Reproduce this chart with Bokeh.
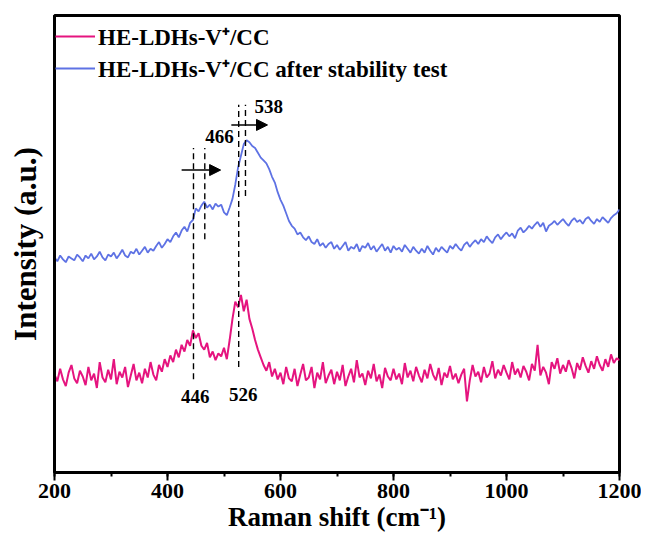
from bokeh.plotting import figure
from bokeh.models import (ColumnDataSource, Legend, LegendItem, SingleIntervalTicker,
                          FixedTicker, Arrow, NormalHead, Range1d)
from bokeh.core.properties import value
from bokeh.embed import file_html
from bokeh.resources import INLINE

# ---------------- data ----------------
shift_start = 200
shift_step = 5

after_test = [
    224, 220, 226, 222, 219, 225, 223, 221, 227, 224,
    220, 226, 223, 228, 222, 225, 230, 224, 221, 227,
    225, 229, 223, 227, 232, 226, 224, 230, 228, 233,
    227, 231, 235, 229, 233, 231, 236, 240, 234, 238,
    243, 240, 246, 250, 245, 252, 256, 251, 260, 263,
    275, 272, 278, 282, 276, 279, 274, 280, 277, 279,
    271, 268, 276, 285, 300, 318, 330, 342, 346, 344,
    340, 338, 333, 328, 325, 322, 316, 308, 302, 292,
    284, 278, 270, 262, 257, 254, 248, 250, 245, 242,
    246, 240, 238, 243, 236, 239, 234, 238, 240, 233,
    237, 232, 236, 240, 231, 235, 233, 238, 230, 236,
    234, 239, 232, 236, 230, 234, 238, 231, 235, 229,
    236, 232, 234, 230, 237, 233, 229, 235, 231, 228,
    233, 229, 236, 231, 227, 234, 230, 235, 232, 229,
    236, 233, 238, 234, 231, 237, 240, 235, 239, 242,
    238, 243, 240, 246, 242, 239, 245, 248, 243, 247,
    250, 246, 249, 244, 252, 255, 250, 253, 257, 254,
    258, 261, 256, 260, 251, 257, 259, 262, 258, 261,
    264, 260, 257, 262, 265, 261, 263, 259, 264, 266,
    262, 259, 264, 261, 266, 263, 260, 265, 268, 270,
    274,
]

fresh = [
    102, 95, 108, 97, 90, 104, 112, 98, 93, 106,
    100, 91, 110, 96, 103, 88, 115, 99, 94, 107,
    97, 118, 92, 105, 99, 110, 89, 101, 113, 96,
    104, 93, 108, 99, 115, 102, 96, 112, 105, 118,
    110, 122, 115, 128, 120, 133, 126, 138, 132, 148,
    140, 145, 132, 128, 135, 120, 126, 117, 124, 121,
    130, 118, 138, 160, 178, 172, 185, 168, 180, 160,
    150, 138, 128, 120, 112, 106, 115, 100, 108, 97,
    104, 92, 110, 98, 95, 108, 90, 102, 113, 96,
    99, 110, 88, 104, 97, 115, 93, 101, 107, 92,
    105, 96, 112, 90, 100, 108, 94, 117, 99, 103,
    91, 106, 98, 113, 95, 102, 88, 109, 100, 96,
    108, 97, 103, 92, 114, 99, 106, 95, 110, 101,
    94, 107, 98, 113, 102, 96, 109, 91, 104, 99,
    111, 97, 103, 93, 102, 108, 74, 96, 112, 100,
    105, 94, 110, 99, 103, 116, 98, 107, 101, 112,
    104, 97, 115, 102, 108, 99, 111, 105, 96, 113,
    106, 133, 101, 110, 104, 92, 115, 108, 119, 103,
    112, 105, 117, 109, 98, 114, 107, 120, 111, 104,
    116, 108, 121, 112, 106, 118, 110, 123, 114, 119,
    117,
]

shift = [shift_start + shift_step * i for i in range(len(fresh))]

series_names = ["HE-LDHs-V\u207a/CC", "HE-LDHs-V\u207a/CC after stability test"]
series_colors = ["#E5147F", "#5E72E4"]

# peak markers: fresh peaks, shifted peaks
peaks_fresh = [446, 526]
peaks_after = [466, 538]
fresh_line_top = [338, 383]
fresh_line_bottom = [97, 110]
after_line_bottom = [243, 288]
arrow_y = [315, 362]
arrow_x0 = [425, 513]
arrow_x1 = [494, 577]
fresh_label_x = [449, 534]
fresh_label_y = [79, 81]
after_label_x = [492, 579]
after_label_y = [350, 381]

FONT = "Liberation Serif"

p = figure(width=641, height=539, output_backend="svg", toolbar_location=None,
           x_range=Range1d(200, 1200), y_range=Range1d(0, 476),
           min_border_left=54, min_border_right=22, min_border_top=15,
           min_border_bottom=67)
p.grid.visible = False
p.outline_line_color = "black"
p.outline_line_width = 3
p.background_fill_color = "white"
p.border_fill_color = "white"

r1 = p.line(shift, fresh, line_color=series_colors[0], line_width=2.0)
r2 = p.line(shift, after_test, line_color=series_colors[1], line_width=1.8)

# dashed guide lines
p.segment(x0=peaks_fresh, y0=fresh_line_bottom, x1=peaks_fresh, y1=fresh_line_top,
          line_color="black", line_width=1.4, line_dash="6 4")
p.segment(x0=peaks_after, y0=after_line_bottom, x1=peaks_after, y1=fresh_line_top,
          line_color="black", line_width=1.4, line_dash="6 4")

asrc = ColumnDataSource(dict(x0=arrow_x0, x1=arrow_x1, y=arrow_y))
p.add_layout(Arrow(source=asrc, x_start="x0", y_start="y", x_end="x1", y_end="y",
                   line_color="black", line_width=1.6,
                   end=NormalHead(size=11, fill_color="black", line_color="black")))

p.text(x=fresh_label_x, y=fresh_label_y, text=[str(v) for v in peaks_fresh],
       text_font=value(FONT), text_font_style="bold", text_font_size="19px",
       text_align="center", text_baseline="middle", text_color="black")
p.text(x=after_label_x, y=after_label_y, text=[str(v) for v in peaks_after],
       text_font=value(FONT), text_font_style="bold", text_font_size="19px",
       text_align="center", text_baseline="middle", text_color="black")

# axes
p.xaxis.ticker = SingleIntervalTicker(interval=200, num_minor_ticks=2)
p.xaxis.axis_label = "Raman shift (cm\u207b\u00b9)"
p.yaxis.axis_label = "Intensity (a.u.)"
for ax in (p.xaxis[0], p.yaxis[0]):
    ax.axis_line_width = 3
    ax.axis_line_color = "black"
    ax.major_tick_line_width = 2
    ax.minor_tick_line_width = 2
    ax.major_tick_in = 0
    ax.minor_tick_in = 0
    ax.axis_label_text_font = FONT
    ax.axis_label_text_font_style = "bold"
    ax.axis_label_text_color = "black"
    ax.major_label_text_font = FONT
    ax.major_label_text_font_style = "bold"
    ax.major_label_text_font_size = "22px"
    ax.major_label_text_color = "black"
p.xaxis.axis_label_text_font_size = "27px"
p.yaxis.axis_label_text_font_size = "31px"
p.xaxis.major_tick_out = 8
p.xaxis.minor_tick_out = 4
p.xaxis.major_label_standoff = 3
p.xaxis.axis_label_standoff = 1
p.yaxis.ticker = FixedTicker(ticks=[])
p.yaxis.major_tick_out = 0
p.yaxis.minor_tick_out = 0
p.yaxis.major_label_standoff = 0
p.yaxis.axis_label_standoff = 12

legend = Legend(items=[LegendItem(label=series_names[0], renderers=[r1]),
                       LegendItem(label=series_names[1], renderers=[r2])],
                location=(1, 388), border_line_color=None, background_fill_alpha=0,
                margin=0, padding=0, spacing=0, glyph_width=40, glyph_height=24,
                label_height=24, label_standoff=3,
                label_text_font=FONT, label_text_font_style="bold",
                label_text_font_size="23px", label_text_color="black")
p.add_layout(legend)

open("out.html", "w").write(file_html(p, INLINE))
